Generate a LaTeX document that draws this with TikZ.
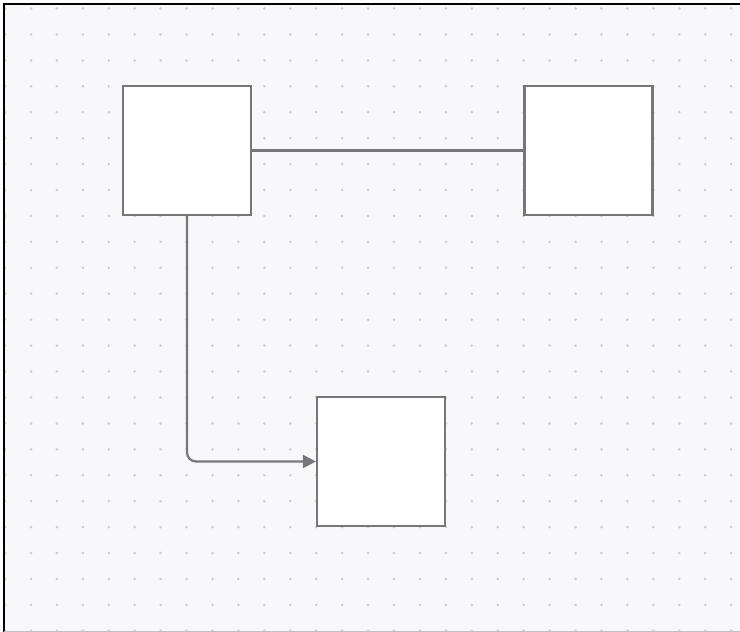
\documentclass[tikz,border=0pt]{standalone}
\usepackage{tikz}
\usepackage{xcolor}
\usetikzlibrary{arrows.meta}

\definecolor{canvas}{HTML}{F8F8FB}
\definecolor{griddot}{HTML}{CFCFD6}
\definecolor{edgegrey}{HTML}{777777}

\tikzset{
  box/.style={draw=edgegrey,fill=white,line width=2.2pt,minimum width=128pt,minimum height=129pt,inner sep=0pt},
  wire/.style={draw=edgegrey,line width=2.2pt}
}

\begin{document}
\begin{tikzpicture}[x=1pt,y=-1pt]
            \useasboundingbox (0,0) rectangle (740,632);
            % canvas with dotted grid
            \fill[canvas] (4,4) rectangle (740,631);
            \foreach \i in {0,...,28}
              \foreach \j in {0,...,24}
                \fill[griddot] (5.07+25.93*\i,8.5+25.93*\j) circle (1.5pt);
            \draw[black,line width=2.2pt] (4,632)--(4,4)--(740,4);
            \draw[griddot!80!gray,line width=1pt] (4,631.5)--(740,631.5);
            % boxes
            \node[box] (left) at (187,150.5) {};
            \node[box] (right) at (588.5,150.5) {};
            \node[box] (bottom) at (381,461.5) {};
            % connectors
            \draw[wire] (left.east)--(right.west);
            \draw[wire,rounded corners=9pt,-{Triangle[length=13pt,width=13pt]}] (left.south) |- (bottom.west);
    \end{tikzpicture}
\end{document}
